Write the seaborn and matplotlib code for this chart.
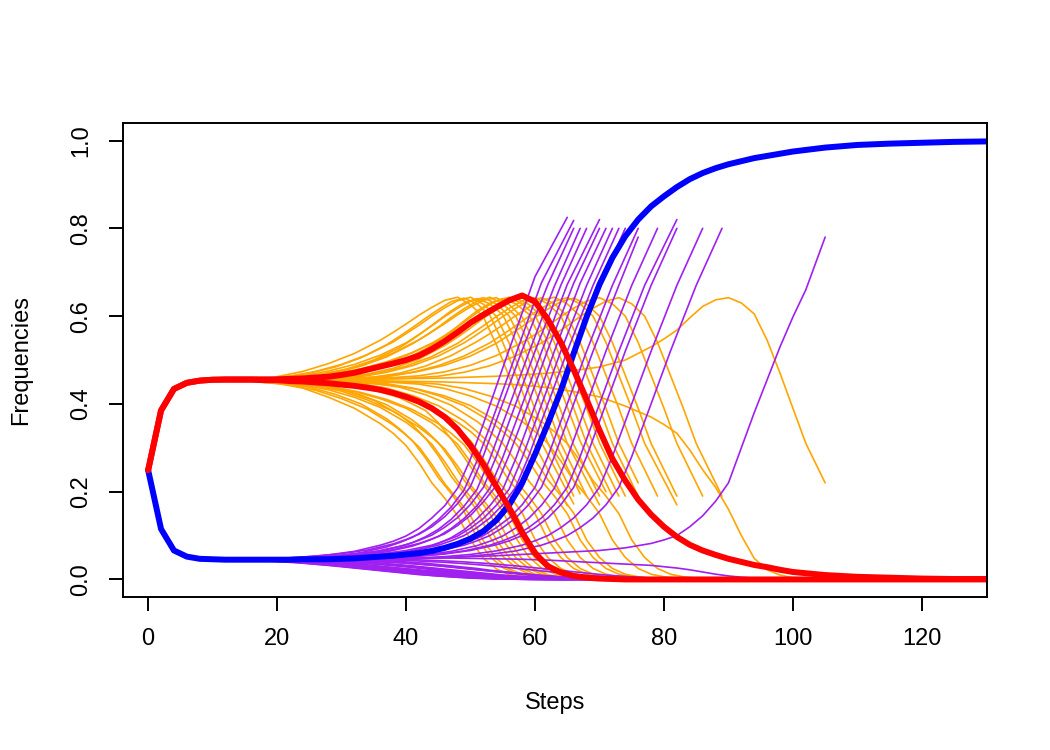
import numpy as np
import pandas as pd
import matplotlib
matplotlib.use("Agg")
import matplotlib.pyplot as plt
import seaborn as sns

sns.set_theme(style="ticks")
plt.rcParams['font.family'] = ['Liberation Sans', 'DejaVu Sans']

# ---------------- thick (mean) trajectories: steps 0..100 every 2, then 105..130 ----------------
thick_steps = list(range(0, 101, 2)) + [105, 110, 115, 120, 125, 130]
blue_mean = [.249, .115, .066, .052, .047, .046, .045, .045, .045, .045,
             .045, .045, .046, .046, .046, .047, .048, .05, .052, .054,
             .057, .06, .065, .072, .081, .093, .11, .135, .17, .22,
             .285, .355, .43, .515, .598, .672, .733, .782, .82, .85,
             .873, .894, .912, .926, .937, .946, .953, .96, .965, .97,
             .975, .984, .99, .993, .995, .997, .998]
red_peak_mean = [.249, .385, .434, .448, .453, .455, .456, .456, .456, .456,
                 .456, .457, .458, .46, .462, .466, .471, .478, .485, .492,
                 .50, .51, .525, .543, .563, .585, .603, .62, .636, .647,
                 .633, .592, .54, .478, .41, .34, .275, .225, .182, .148,
                 .12, .097, .079, .066, .056, .047, .04, .033, .028, .022,
                 .017, .01, .006, .004, .002, .001, .001]
red_fall_mean = [.249, .385, .434, .448, .453, .455, .455, .455, .455, .454,
                 .454, .452, .451, .449, .447, .444, .441, .437, .432, .425,
                 .416, .405, .39, .37, .342, .305, .262, .212, .163, .107,
                 .06, .03, .016, .008, .004, .002, .001, 0, 0, 0,
                 0, 0, 0, 0, 0, 0, 0, 0, 0, 0,
                 0, 0, 0, 0, 0, 0, 0]

# ---------------- individual runs ----------------
run_peak = [48, 49, 50, 51, 52, 53, 54, 55, 56, 57, 58, 60, 61, 63, 65, 66, 70, 73, 90]
run_end = [65, 66, 66, 67, 68, 70, 70, 71, 72, 73, 74, 76, 76, 79, 82, 82, 86, 89, 105]

# Each run: values every 4 steps up to (peak-12), then every 2 steps from peak-10 to peak+12,
# then the value at the final step.
# typical shape around the peak (peak-10 ... peak+12)
op_core = [.558, .578, .599, .618, .634, .642, .628, .60, .54, .465, .39, .31]
ol_core = [.337, .31, .27, .225, .19, .15, .09, .05, .025, .012, .006, .003]
pw_core = [.088, .10, .118, .14, .17, .21, .28, .36, .44, .52, .595, .67]
pl_core = [.016, .013, .01, .008, .006, .005, .003, .002, .001, .001, .000, .000]

orange_peak = [
    [.462, .474, .492, .515, .545] + [.563, .582, .602, .620, .636, .643, .626, .598, .535, .462, .385, .305] + [.168],
    [.458, .461, .470, .484, .505, .535] + [.554, .574, .595, .615, .633, .641, .628, .602, .54, .468, .39, .312] + [.172],
    [.458, .463, .474, .490, .512, .541] + [.56, .579, .6, .619, .635, .643, .627, .600, .538, .465, .388, .31] + [.19],
    [.457, .460, .468, .480, .500, .528] + [.547, .568, .59, .612, .63, .640, .628, .603, .543, .47, .393, .315] + [.195],
    [.459, .464, .475, .490, .511, .539] + op_core + [.19],
    [.456, .458, .462, .471, .486, .507, .537] + [.555, .575, .597, .617, .634, .643, .628, .60, .54, .466, .39, .31] + [.17],
    [.456, .459, .465, .476, .493, .516, .546] + [.564, .583, .603, .621, .636, .642, .626, .598, .536, .462, .385, .307] + [.19],
    [.456, .457, .460, .466, .478, .496, .525] + [.544, .565, .589, .612, .629, .640, .628, .605, .545, .47, .393, .315] + [.20],
    [.457, .46, .466, .476, .49, .51, .538] + [.556, .576, .597, .618, .635, .643, .628, .602, .54, .466, .39, .31] + [.19],
    [.456, .458, .462, .469, .480, .496, .517, .545] + [.562, .58, .6, .618, .633, .641, .627, .60, .54, .465, .388, .31] + [.19],
    [.455, .456, .458, .461, .468, .481, .502, .533] + [.552, .573, .595, .616, .633, .642, .628, .602, .542, .467, .39, .311] + [.19],
    [.455, .456, .458, .462, .471, .486, .508, .538] + op_core + [.19],
    [.455, .455, .456, .458, .462, .472, .487, .509, .539] + op_core + [.22],
    [.455, .455, .456, .457, .461, .47, .486, .51, .542] + [.56, .58, .601, .62, .636, .643, .628, .60, .54, .465, .39, .31] + [.19],
    [.455, .455, .456, .456, .458, .462, .472, .487, .509, .539] + op_core + [.17],
    [.455, .455, .456, .457, .46, .465, .474, .488, .509, .538] + [.557, .576, .597, .616, .633, .641, .627, .60, .54, .465, .39, .31] + [.19],
    [.455, .455, .456, .457, .458, .46, .464, .473, .488, .51, .54] + op_core + [.19],
    [.455, .455, .455, .456, .456, .457, .459, .463, .472, .487, .509, .539] + op_core + [.19],
    [.455, .455, .455, .456, .456, .457, .458, .459, .461, .463, .466, .470, .476, .484, .50, .53]
    + [.548, .568, .596, .622, .637, .642, .630, .605, .545, .47, .39, .31] + [.22],
]
orange_fall = [
    [.447, .436, .415, .39, .355] + [.333, .305, .266, .22, .185, .145, .09, .048, .024, .011, .005, .003] + [.000],
    [.450, .446, .438, .422, .40, .366] + [.343, .316, .277, .232, .196, .155, .095, .052, .027, .013, .006, .003] + [.000],
    [.449, .443, .431, .412, .388, .352] + [.329, .302, .262, .218, .183, .145, .088, .048, .024, .012, .006, .003] + [.001],
    [.451, .448, .441, .428, .408, .375] + [.352, .322, .282, .235, .197, .158, .097, .053, .027, .013, .006, .003] + [.001],
    [.448, .443, .432, .415, .392, .358] + [.335, .308, .268, .224, .188, .15, .09, .05, .025, .012, .006, .003] + [.001],
    [.452, .450, .446, .437, .42, .398, .363] + [.34, .312, .272, .226, .19, .15, .09, .05, .025, .012, .006, .003] + [.000],
    [.451, .448, .441, .429, .409, .383, .347] + [.324, .297, .258, .215, .18, .143, .087, .047, .023, .011, .005, .003] + [.001],
    [.452, .451, .448, .443, .432, .414, .385] + [.357, .32, .279, .235, .196, .155, .095, .052, .026, .013, .006, .003] + [.001],
    [.45, .446, .439, .428, .412, .39, .357] + [.334, .308, .268, .223, .187, .148, .09, .049, .025, .012, .006, .003] + [.001],
    [.451, .449, .445, .438, .426, .41, .387, .355] + [.333, .307, .268, .224, .188, .15, .09, .05, .025, .012, .006, .003] + [.001],
    [.453, .452, .45, .447, .44, .426, .404, .368] + [.345, .316, .275, .229, .192, .152, .091, .05, .025, .012, .006, .003] + [.001],
    [.453, .451, .448, .443, .433, .416, .393, .358] + ol_core + [.001],
    [.454, .453, .452, .45, .446, .436, .419, .396, .361] + ol_core + [.001],
    [.454, .454, .453, .451, .447, .438, .421, .397, .36] + ol_core + [.001],
    [.454, .454, .453, .452, .45, .446, .436, .419, .396, .361] + ol_core + [.000],
    [.454, .453, .452, .45, .447, .442, .433, .418, .396, .362] + [.338, .312, .272, .227, .191, .151, .09, .05, .025, .012, .006, .003] + [.001],
    [.454, .454, .453, .452, .451, .449, .445, .435, .418, .395, .36] + ol_core + [.001],
    [.454, .454, .454, .453, .452, .451, .449, .445, .435, .418, .395, .36] + ol_core + [.001],
    [.454, .454, .454, .453, .453, .452, .451, .45, .448, .446, .443, .437, .428, .416, .395, .37]
    + [.353, .333, .295, .25, .21, .16, .1, .048, .022, .01, .004, .002] + [.000],
]
purple_rise = [
    [.048, .051, .056, .064, .078] + [.087, .099, .116, .140, .168, .208, .275, .355, .44, .524, .607, .69] + [.825],
    [.047, .048, .050, .054, .061, .074] + [.084, .096, .113, .136, .165, .204, .27, .348, .43, .512, .595, .676] + [.818],
    [.047, .049, .053, .059, .067, .081] + [.091, .103, .12, .143, .173, .212, .282, .362, .442, .522, .598, .672] + [.80],
    [.046, .048, .051, .056, .063, .075] + [.084, .097, .114, .137, .167, .205, .275, .355, .435, .515, .592, .668] + [.80],
    [.047, .049, .052, .057, .065, .079] + [.089, .101, .119, .141, .171, .21, .28, .36, .44, .52, .595, .67] + [.80],
    [.046, .047, .048, .051, .056, .063, .076] + [.086, .098, .116, .139, .168, .208, .278, .358, .438, .518, .595, .672] + [.82],
    [.046, .047, .049, .053, .059, .068, .082] + [.092, .104, .123, .146, .177, .214, .284, .362, .443, .524, .6, .675] + [.80],
    [.045, .046, .047, .049, .053, .059, .072] + [.082, .095, .113, .138, .168, .205, .275, .355, .437, .52, .598, .675] + [.80],
    [.047, .048, .05, .053, .058, .066, .078] + [.088, .099, .117, .139, .169, .206, .277, .357, .438, .52, .595, .67] + [.80],
    [.046, .046, .047, .049, .052, .057, .065, .078] + pw_core + [.80],
    [.046, .046, .047, .048, .05, .054, .061, .073] + [.083, .095, .113, .137, .167, .208, .278, .358, .438, .52, .595, .67] + [.80],
    [.046, .047, .048, .05, .053, .058, .066, .079] + pw_core + [.80],
    [.045, .045, .046, .047, .049, .052, .057, .065, .078] + pw_core + [.78],
    [.045, .045, .045, .046, .048, .051, .056, .064, .077] + [.087, .099, .117, .139, .169, .208, .278, .358, .44, .52, .595, .67] + [.80],
    [.045, .045, .045, .046, .047, .049, .052, .057, .065, .078] + pw_core + [.82],
    [.045, .046, .046, .047, .048, .05, .053, .058, .066, .079] + pw_core + [.80],
    [.045, .045, .045, .045, .046, .047, .049, .052, .057, .065, .078] + pw_core + [.80],
    [.045, .045, .045, .045, .046, .046, .047, .049, .052, .057, .065, .078] + pw_core + [.80],
    [.045, .045, .046, .046, .047, .048, .049, .05, .052, .054, .057, .06, .063, .066, .072, .082]
    + [.09, .10, .12, .145, .178, .22, .3, .38, .455, .53, .598, .66] + [.78],
]
purple_fall = [
    [.041, .037, .032, .026, .02] + [.017, .014, .011, .009, .007, .005, .003, .002, .001, .001, .000, .000] + [.000],
    [.043, .041, .038, .034, .028, .022] + [.018, .015, .012, .009, .007, .005, .003, .002, .001, .001, .000, .000] + [.000],
    [.042, .04, .035, .03, .024, .018] + [.015, .012, .009, .007, .005, .004, .003, .002, .001, .001, .000, .000] + [.000],
    [.044, .042, .039, .035, .03, .024] + [.02, .017, .014, .011, .008, .006, .004, .003, .002, .001, .000, .000] + [.000],
    [.043, .04, .036, .031, .025, .019] + pl_core + [.000],
    [.044, .042, .04, .036, .031, .025, .019] + pl_core + [.000],
    [.045, .044, .042, .038, .033, .027, .021] + [.017, .014, .011, .009, .007, .005, .003, .002, .001, .001, .000, .000] + [.000],
    [.044, .043, .041, .039, .035, .03, .024] + [.02, .017, .014, .011, .008, .006, .004, .003, .002, .001, .000, .000] + [.000],
    [.043, .041, .038, .034, .029, .023, .017] + [.014, .012, .01, .008, .006, .005, .003, .002, .001, .001, .000, .000] + [.000],
    [.044, .042, .04, .037, .033, .028, .023, .018] + [.015, .013, .01, .008, .006, .005, .003, .002, .001, .001, .000, .000] + [.000],
    [.045, .045, .044, .042, .039, .034, .028, .021] + [.018, .015, .012, .009, .007, .005, .003, .002, .001, .001, .000, .000] + [.000],
    [.044, .043, .041, .039, .035, .03, .024, .018] + pl_core + [.000],
    [.045, .045, .044, .042, .04, .036, .031, .025, .019] + pl_core + [.000],
    [.045, .045, .045, .045, .044, .041, .037, .031, .025] + [.021, .018, .015, .012, .009, .007, .005, .003, .001, .001, .000, .000] + [.000],
    [.045, .045, .045, .044, .042, .04, .036, .031, .025, .019] + pl_core + [.000],
    [.045, .045, .044, .043, .041, .039, .035, .03, .024, .018] + pl_core + [.000],
    [.046, .046, .046, .045, .045, .044, .042, .039, .035, .03, .024] + [.021, .018, .015, .012, .009, .007, .005, .003, .002, .001, .000, .000] + [.000],
    [.046, .047, .047, .047, .047, .046, .045, .043, .04, .036, .031, .025] + [.022, .019, .016, .013, .01, .008, .006, .004, .002, .001, .000, .000] + [.000],
    [.045, .046, .047, .048, .048, .049, .049, .049, .048, .047, .046, .044, .041, .038, .035, .032]
    + [.029, .026, .022, .017, .012, .008, .005, .003, .002, .001, .000, .000] + [.000],
]

x_ticks = [0, 20, 40, 60, 80, 100, 120]
y_ticks = [0.0, 0.2, 0.4, 0.6, 0.8, 1.0]
y_tick_labels = ["0.0", "0.2", "0.4", "0.6", "0.8", "1.0"]

ORANGE = "#FFA500"
PURPLE = "#A020F0"
BLUE = "#0000FF"
RED = "#FF0000"

fig = plt.figure(figsize=(10.5, 7.5), dpi=100)
ax = fig.add_axes([123 / 1050, 153 / 750, 864 / 1050, 474 / 750])


def draw(xs, ys, color, lw):
    n = min(len(xs), len(ys))
    df = pd.DataFrame({"step": xs[:n], "freq": ys[:n]})
    sns.lineplot(data=df, x="step", y="freq", ax=ax, color=color, linewidth=lw,
                 estimator=None, sort=False, legend=False,
                 solid_capstyle="round", solid_joinstyle="round")


N_DENSE = 12


def run_steps(peak, end, n_vals):
    m = n_vals - N_DENSE - 1
    coarse = [peak - 12 - 4 * (m - 1 - j) for j in range(m)]
    dense = [peak - 10 + 2 * j for j in range(N_DENSE)]
    return coarse + dense + [end]


THIN = 1.2
for i in range(len(run_peak)):
    for series in (orange_peak, orange_fall):
        vals = series[i]
        draw(run_steps(run_peak[i], run_end[i], len(vals)), vals, ORANGE, THIN)
for i in range(len(run_peak)):
    for series in (purple_rise, purple_fall):
        vals = series[i]
        draw(run_steps(run_peak[i], run_end[i], len(vals)), vals, PURPLE, THIN)

THICK = 4.3
draw(thick_steps, blue_mean, BLUE, THICK)
draw(thick_steps, red_peak_mean, RED, THICK)
draw(thick_steps, red_fall_mean, RED, THICK)

ax.set_xlim(-3.9, 130.1)
ax.set_ylim(-0.04, 1.04)
ax.set_xticks(x_ticks)
ax.set_xticklabels([str(v) for v in x_ticks])
ax.set_yticks(y_ticks)
ax.set_yticklabels(y_tick_labels, rotation=90, va="center")

for sp in ax.spines.values():
    sp.set_visible(True)
    sp.set_color("black")
    sp.set_linewidth(1.4)
ax.tick_params(axis="both", direction="out", length=10, width=1.4, color="black",
               labelsize=17, labelcolor="black")
ax.tick_params(axis="x", pad=12)
ax.tick_params(axis="y", pad=12)
ax.grid(False)

ax.set_xlabel("Steps", fontsize=17, color="black")
ax.set_ylabel("Frequencies", fontsize=17, color="black")
ax.xaxis.set_label_coords(0.5, (597 - 703) / 474)
ax.xaxis.label.set_va("center")
ax.yaxis.set_label_coords((21 - 123) / 864, 0.5)
ax.yaxis.label.set_va("center")

fig.savefig("out.png", dpi=100, facecolor="white")
